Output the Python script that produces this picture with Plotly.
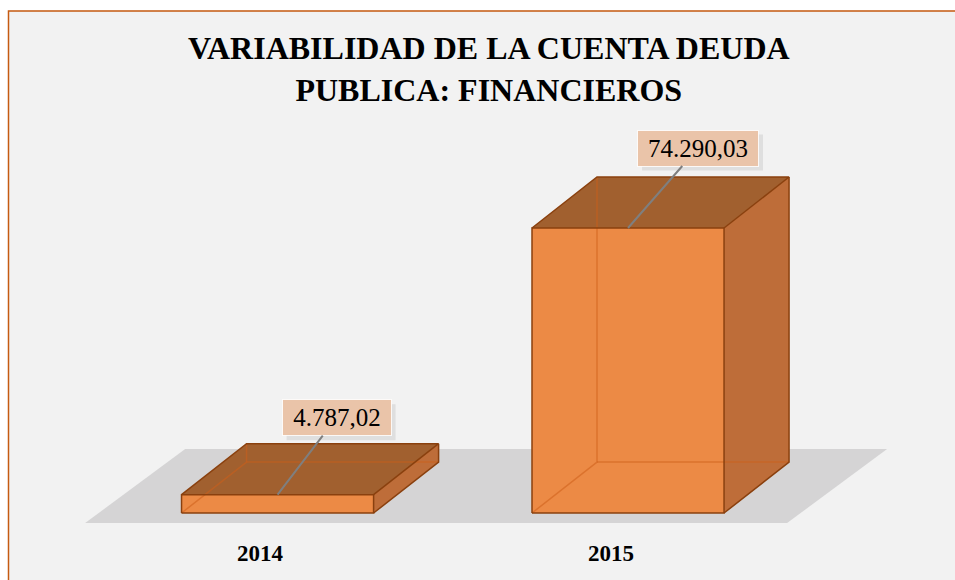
import plotly.graph_objects as go

# ---- data ----
categories = ["2014", "2015"]
values = [4787.02, 74290.03]
title_lines = ["VARIABILIDAD DE LA CUENTA DEUDA", "PUBLICA: FINANCIEROS"]


def fmt_es(v):
    s = f"{v:,.2f}"
    return s.replace(",", "X").replace(".", ",").replace("X", ".")


labels = [fmt_es(v) for v in values]

# ---- layout geometry ----
W, H = 955, 580
vmax = max(values)
xr = [-0.792, 1.933]
yr = [-0.235 * vmax, 1.80 * vmax]
ux = W / (xr[1] - xr[0])          # px per x unit
uy = H / (yr[1] - yr[0])          # px per value unit
bw = 0.548                         # bar width (category units)
dx, dy = 65 / ux, 51 / uy          # 3D depth offset

FRONT = "#ec8a45"
TOP = "#a1602f"
SIDE = "#be6d39"
EDGE = "#8a400e"
HIDDEN = "rgba(205,95,25,0.55)"
FLOOR = "#d5d4d5"
BG = "#f2f2f2"
SERIF = "Times New Roman, Liberation Serif, serif"

fig = go.Figure()


def poly(xs, ys, fill, line=None, lw=0):
    fig.add_trace(go.Scatter(
        x=xs + [xs[0]], y=ys + [ys[0]], mode="lines", fill="toself",
        fillcolor=fill, line=dict(color=line or fill, width=lw),
        hoverinfo="skip", showlegend=False))


def seg(xs, ys, color, w):
    fig.add_trace(go.Scatter(x=xs, y=ys, mode="lines",
                             line=dict(color=color, width=w),
                             hoverinfo="skip", showlegend=False))


# floor shadow
fy = -10 / uy
fx0, fx1 = -0.549, 1.454
fdx, fdy = 100 / ux, 74 / uy
poly([fx0, fx1, fx1 + fdx, fx0 + fdx], [fy, fy, fy + fdy, fy + fdy], FLOOR)

for i, v in enumerate(values):
    x0, x1 = i - bw / 2, i + bw / 2
    # faces
    poly([x0, x1, x1, x0], [0, 0, v, v], FRONT)
    poly([x0, x1, x1 + dx, x0 + dx], [v, v, v + dy, v + dy], TOP)
    poly([x1, x1 + dx, x1 + dx, x1], [0, dy, v + dy, v], SIDE)
    # hidden edges (seen through translucent faces)
    seg([x0, x0 + dx, x0 + dx], [0, dy, v + dy], HIDDEN, 1.5)
    seg([x0 + dx, x1 + dx], [dy, dy], HIDDEN, 1.5)
    # visible edges
    seg([x0, x1, x1, x0, x0], [0, 0, v, v, 0], EDGE, 1.5)
    seg([x0, x0 + dx, x1 + dx, x1], [v, v + dy, v + dy, v], EDGE, 1.5)
    seg([x1, x1 + dx, x1 + dx], [0, dy, v + dy], EDGE, 1.5)

label_offsets = [(59, -77), (70, -80)]
annotations = []
shapes = [dict(type="rect", xref="paper", yref="paper",
               x0=8.5 / W, x1=1.05, y0=-0.05, y1=1 - 11 / H,
               fillcolor=BG, line=dict(color="#c55a11", width=1.5),
               layer="below")]
for i, (v, t) in enumerate(zip(values, labels)):
    ax, ay = label_offsets[i]
    bwid = 12 * len(t) + 10
    bh = 33
    # soft drop shadow behind the label box
    shapes.append(dict(
        type="rect", xref="x", yref="y", xsizemode="pixel", ysizemode="pixel",
        xanchor=i, yanchor=v,
        x0=ax - bwid / 2 + 3, x1=ax + bwid / 2 + 6,
        y0=-ay - bh / 2 - 6, y1=-ay + bh / 2 - 3,
        fillcolor="rgba(0,0,0,0.08)", line=dict(width=0), layer="above"))
    annotations.append(dict(
        x=i, y=v, xref="x", yref="y", text=t, showarrow=True, ax=ax, ay=ay,
        arrowhead=0, arrowwidth=2, arrowcolor="#7f7f7f", standoff=0,
        font=dict(family=SERIF, size=25, color="#000000"),
        bgcolor="#eac4a9", bordercolor="rgba(255,255,255,0.85)", borderwidth=1,
        width=bwid, height=bh))

for i, c in enumerate(categories):
    annotations.append(dict(
        x=i, y=1 - 553 / H, xref="x", yref="paper", xshift=-17,
        yanchor="middle", xanchor="center",
        text=f"<b>{c}</b>", showarrow=False,
        font=dict(family=SERIF, size=23, color="#000000")))

annotations.append(dict(
    x=489 / W, y=1 - 69 / H, xref="paper", yref="paper",
    text="<b>" + "<br>".join(title_lines) + "</b>", showarrow=False,
    xanchor="center", yanchor="middle",
    font=dict(family=SERIF, size=32, color="#000000")))

fig.update_layout(
    width=W, height=H, margin=dict(l=0, r=0, t=0, b=0),
    paper_bgcolor="#ffffff", plot_bgcolor="rgba(0,0,0,0)",
    xaxis=dict(range=xr, visible=False, fixedrange=True),
    yaxis=dict(range=yr, visible=False, fixedrange=True),
    showlegend=False, annotations=annotations, shapes=shapes,
)

fig.write_html(
    "out.html",
    config={"displayModeBar": False},
    post_script=("document.documentElement.style.margin='0';"
                 "document.body.style.margin='0';"
                 "document.body.style.overflow='hidden';"
                 "document.documentElement.style.overflow='hidden';"),
)
